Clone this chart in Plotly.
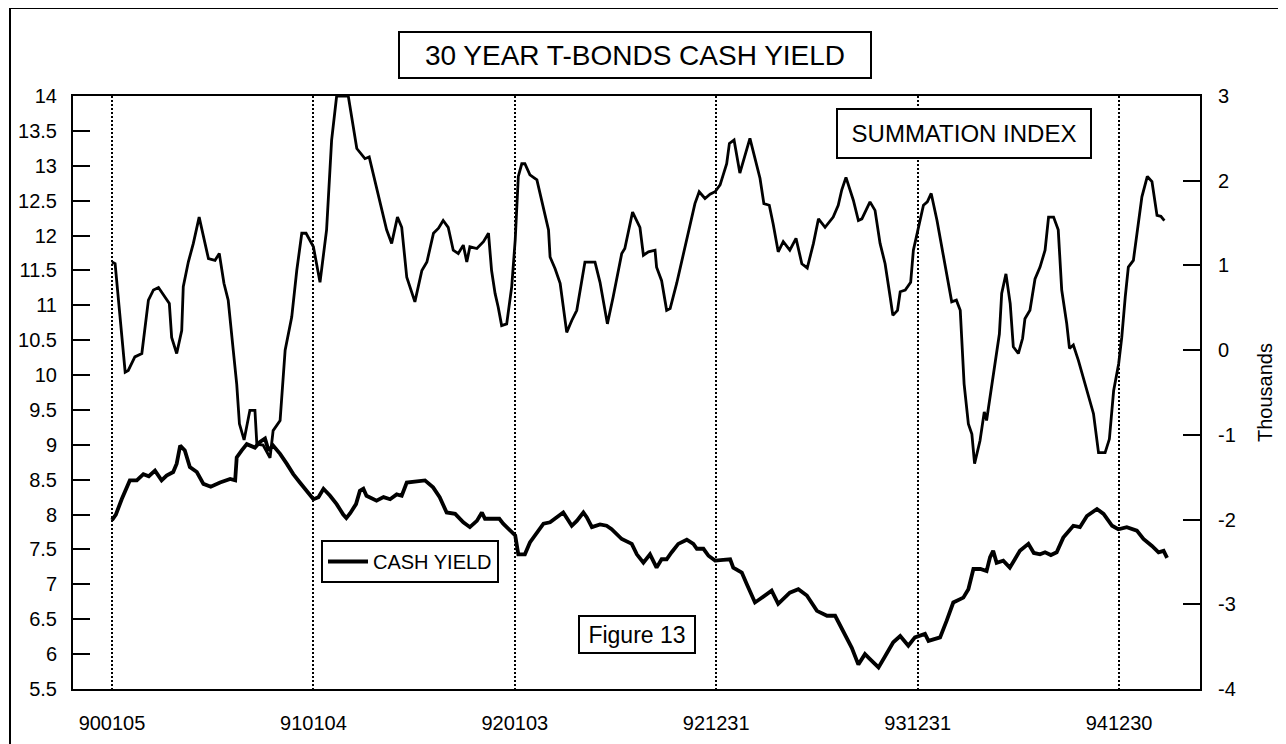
import plotly.graph_objects as go

# ---------------- data ----------------
# x = weeks since 1990-01-05 (weekly data)
tick_weeks = [0, 52, 104, 156, 208, 260]
tick_labels = ["900105", "910104", "920103", "921231", "931231", "941230"]

left_tick_vals = [5.5, 6, 6.5, 7, 7.5, 8, 8.5, 9, 9.5, 10, 10.5, 11, 11.5, 12, 12.5, 13, 13.5, 14]
left_tick_text = ["5.5", "6", "6.5", "7", "7.5", "8", "8.5", "9", "9.5", "10", "10.5", "11",
                  "11.5", "12", "12.5", "13", "13.5", "14"]
right_tick_vals = [-4, -3, -2, -1, 0, 1, 2, 3]
right_tick_text = ["-4", "-3", "-2", "-1", "0", "1", "2", "3"]

sum_week = [0, 0.8, 3.4, 4.2, 5.9, 7.7, 9.4, 10.7, 12.0, 14.8, 15.4, 16.7, 18.0, 18.4, 19.7, 21.0,
            22.5, 24.9, 26.6, 27.7, 28.9, 30.0, 31.3, 32.2, 32.9, 34.1, 35.6, 36.9, 37.4, 39.0,
            40.8, 41.6, 43.4, 44.7, 46.4, 47.7, 49.0, 50.1, 52.0, 53.7, 55.4, 56.7, 58.0, 61.0,
            63.2, 65.3, 66.4, 68.3, 70.9, 72.2, 73.7, 74.8, 76.1, 78.2, 80.0, 81.3, 83.0, 84.3,
            85.5, 86.8, 88.1, 89.4, 90.7, 91.6, 92.4, 94.2, 95.9, 97.2, 98.0, 98.9, 99.7, 100.6,
            101.9, 103.2, 104.1, 104.9, 105.8, 106.6, 107.9, 109.7, 111.4, 112.7, 113.1, 114.4,
            115.7, 117.4, 118.7, 120.0, 122.1, 124.7, 126.0, 127.9, 129.4, 131.6, 132.4, 134.4,
            136.3, 137.2, 138.5, 140.2, 140.6, 141.9, 143.2, 144.1, 145.8, 147.6, 149.2, 150.5,
            151.6, 153.1, 154.4, 155.7, 157.0, 158.7, 159.4, 160.6, 162.1, 164.7, 167.3, 168.3,
            169.7, 170.7, 172.0, 173.3, 175.0, 176.6, 178.1, 179.5, 181.1, 182.4, 184.1, 186.2,
            187.5, 188.4, 189.5, 191.4, 192.7, 193.6, 195.7, 197.0, 198.3, 199.6, 200.9, 201.6,
            202.8, 203.5, 204.8, 206.2, 206.9, 208.2, 209.5, 210.5, 211.5, 213.0, 214.7, 216.0,
            216.8, 218.0, 219.0, 220.0, 221.1, 222.0, 222.7, 224.1, 225.2, 225.8, 227.5, 229.1,
            229.7, 230.8, 231.9, 232.7, 234.0, 235.1, 235.7, 237.0, 238.3, 239.6, 240.9, 241.8,
            243.1, 244.3, 245.2, 246.5, 247.2, 248.2, 249.5, 251.7, 253.4, 254.7, 256.4, 257.5,
            258.6, 259.9, 260.7, 261.6, 262.4, 263.7, 265.0, 265.9, 267.3, 268.5, 269.8, 270.8,
            271.7]
sum_index = [1.04, 1.02, -0.26, -0.24, -0.08, -0.04, 0.59, 0.71, 0.74, 0.55, 0.15, -0.04, 0.23,
             0.75, 1.04, 1.26, 1.57, 1.08, 1.06, 1.14, 0.79, 0.59, 0.00, -0.40, -0.87, -1.06,
             -0.71, -0.71, -1.11, -1.12, -1.27, -0.95, -0.83, 0.00, 0.39, 0.94, 1.38, 1.38, 1.22,
             0.80, 1.42, 2.48, 3.00, 3.00, 2.38, 2.26, 2.28, 1.93, 1.42, 1.26, 1.57, 1.45, 0.86,
             0.57, 0.94, 1.04, 1.38, 1.44, 1.53, 1.45, 1.18, 1.14, 1.24, 1.04, 1.22, 1.20, 1.28,
             1.38, 0.94, 0.67, 0.51, 0.29, 0.31, 0.75, 1.30, 2.05, 2.20, 2.20, 2.07, 2.01, 1.69,
             1.42, 1.10, 0.96, 0.79, 0.21, 0.35, 0.47, 1.04, 1.04, 0.80, 0.31, 0.63, 1.14, 1.20,
             1.63, 1.45, 1.12, 1.16, 1.18, 0.98, 0.82, 0.47, 0.49, 0.79, 1.14, 1.45, 1.73, 1.87,
             1.79, 1.84, 1.87, 1.95, 2.20, 2.44, 2.48, 2.09, 2.50, 2.03, 1.73, 1.71, 1.49, 1.16,
             1.28, 1.18, 1.32, 1.02, 0.97, 1.26, 1.55, 1.45, 1.57, 1.71, 1.89, 2.04, 1.77, 1.53,
             1.55, 1.75, 1.65, 1.26, 1.02, 0.63, 0.41, 0.47, 0.69, 0.71, 0.80, 1.18, 1.45, 1.71,
             1.75, 1.85, 1.53, 1.10, 0.75, 0.57, 0.59, 0.47, -0.40, -0.87, -0.99, -1.34, -1.07,
             -0.73, -0.83, -0.32, 0.19, 0.67, 0.90, 0.55, 0.04, -0.04, 0.14, 0.37, 0.47, 0.84,
             0.98, 1.18, 1.57, 1.57, 1.42, 0.71, 0.31, 0.02, 0.06, -0.12, -0.48, -0.75, -1.21,
             -1.21, -1.05, -0.48, -0.16, 0.15, 0.63, 0.98, 1.06, 1.49, 1.81, 2.05, 1.99, 1.59,
             1.58, 1.53]

cash_week = [0, 1.0, 2.5, 4.6, 6.4, 8.1, 9.5, 11.1, 12.8, 14.1, 15.8, 16.7, 17.6, 18.8, 20.1, 21.9,
             23.6, 25.5, 27.9, 30.5, 31.8, 32.2, 33.5, 34.8, 36.9, 38.2, 39.5, 40.4, 41.6, 43.4,
             45.1, 46.8, 48.5, 50.3, 52.0, 53.3, 54.6, 56.3, 58.0, 59.7, 60.5, 61.5, 63.0, 64.0,
             64.9, 65.7, 68.3, 70.1, 71.8, 73.5, 74.8, 76.1, 79.5, 80.8, 82.9, 84.6, 86.4, 88.6,
             90.7, 92.4, 94.2, 95.5, 96.3, 98.5, 100.0, 101.0, 102.8, 104.1, 104.9, 106.6, 107.9,
             109.7, 111.4, 113.1, 114.4, 116.5, 118.7, 120.0, 121.7, 122.6, 123.9, 126.0, 127.7,
             129.0, 131.6, 132.9, 134.2, 135.5, 137.2, 138.9, 140.6, 141.9, 143.2, 144.5, 146.2,
             148.4, 150.1, 151.0, 152.7, 154.0, 155.7, 157.8, 159.6, 160.4, 162.6, 163.9, 166.0,
             167.3, 169.8, 170.3, 172.0, 173.3, 175.0, 177.2, 179.4, 182.0, 184.6, 186.7, 188.8,
             191.0, 192.7, 194.4, 195.5, 197.9, 199.6, 201.7, 203.5, 205.6, 207.3, 209.9, 210.8,
             212.4, 213.8, 215.5, 217.2, 219.8, 221.1, 222.4, 224.2, 225.8, 226.7, 227.5, 228.4,
             230.1, 231.8, 234.4, 236.6, 238.0, 239.6, 240.9, 242.4, 243.9, 245.6, 248.2, 249.9,
             251.7, 253.0, 254.3, 256.0, 258.2, 259.8, 261.0, 262.0, 264.6, 266.3, 268.5, 270.2,
             271.5, 272.4]
cash_yield = [7.92, 8.00, 8.22, 8.49, 8.49, 8.58, 8.55, 8.63, 8.49, 8.56, 8.61, 8.73, 8.99, 8.92,
              8.68, 8.61, 8.44, 8.40, 8.46, 8.51, 8.49, 8.82, 8.92, 9.01, 8.96, 9.04, 9.09, 8.92,
              8.99, 8.87, 8.73, 8.58, 8.46, 8.34, 8.22, 8.25, 8.37, 8.27, 8.15, 8.00, 7.95, 8.02,
              8.15, 8.34, 8.37, 8.27, 8.20, 8.25, 8.22, 8.29, 8.27, 8.46, 8.49, 8.49, 8.39, 8.25,
              8.03, 8.01, 7.89, 7.82, 7.91, 8.03, 7.94, 7.94, 7.94, 7.87, 7.77, 7.70, 7.43, 7.43,
              7.60, 7.74, 7.87, 7.89, 7.94, 8.03, 7.84, 7.91, 8.03, 7.96, 7.82, 7.86, 7.84, 7.79,
              7.65, 7.62, 7.58, 7.43, 7.31, 7.43, 7.24, 7.36, 7.36, 7.46, 7.58, 7.64, 7.58, 7.51,
              7.51, 7.41, 7.34, 7.35, 7.36, 7.24, 7.17, 7.00, 6.74, 6.79, 6.89, 6.91, 6.72, 6.79,
              6.88, 6.93, 6.84, 6.62, 6.55, 6.55, 6.33, 6.09, 5.85, 6.00, 5.94, 5.81, 5.97, 6.17,
              6.26, 6.12, 6.24, 6.29, 6.19, 6.22, 6.24, 6.48, 6.74, 6.81, 6.93, 7.22, 7.22, 7.19,
              7.39, 7.48, 7.31, 7.34, 7.24, 7.48, 7.58, 7.45, 7.43, 7.46, 7.42, 7.46, 7.67, 7.84,
              7.82, 7.98, 8.03, 8.08, 8.01, 7.84, 7.79, 7.80, 7.82, 7.77, 7.65, 7.55, 7.46, 7.48,
              7.38]

# ---------------- layout helpers ----------------
OFF = 8                     # the page body adds an 8px margin on top and left
W, H = 1286 - OFF, 744 - OFF
PL, PR, PT, PB = 73, 1200, 96, 689  # plot-area edges in screen pixels


def px(x):
    return (x - PL) / (PR - PL)


def py(y):
    return (PB - y) / (PB - PT)


FONT = "Arial, 'Liberation Sans', sans-serif"

fig = go.Figure()
fig.add_trace(go.Scatter(x=sum_week, y=sum_index, mode="lines", yaxis="y2",
                         line=dict(color="black", width=2.8), name="SUMMATION INDEX",
                         showlegend=False))
fig.add_trace(go.Scatter(x=cash_week, y=cash_yield, mode="lines", yaxis="y",
                         line=dict(color="black", width=3.8), name="CASH YIELD"))

fig.update_layout(
    width=W, height=H,
    margin=dict(l=PL - OFF, r=W - (PR - OFF), t=PT - OFF, b=H - (PB - OFF), autoexpand=False),
    paper_bgcolor="white", plot_bgcolor="white",
    font=dict(family=FONT, color="black", size=20),
    xaxis=dict(range=[-10.07, 280.9], tickvals=tick_weeks, ticktext=tick_labels,
               showgrid=True, gridcolor="black", gridwidth=1.6, griddash="2px,2px",
               ticks="", showline=True, linecolor="black", linewidth=2, mirror=True,
               zeroline=False, ticklabelstandoff=15, tickfont=dict(size=20),
               automargin=False),
    yaxis=dict(range=[5.5, 14], tickvals=left_tick_vals, ticktext=left_tick_text,
               ticks="inside", ticklen=17, tickwidth=2, tickcolor="black",
               showline=True, linecolor="black", linewidth=2, showgrid=False,
               zeroline=False, ticklabelstandoff=10, tickfont=dict(size=20),
               automargin=False),
    yaxis2=dict(range=[-4, 3], tickvals=right_tick_vals, ticktext=right_tick_text,
                overlaying="y", side="right",
                ticks="inside", ticklen=17, tickwidth=2, tickcolor="black",
                showline=True, linecolor="black", linewidth=2, showgrid=False,
                zeroline=False, ticklabelstandoff=12, tickfont=dict(size=20),
                title=dict(text="Thousands", font=dict(size=20), standoff=23),
                automargin=False),
    legend=dict(x=px(321), y=py(540), xanchor="left", yanchor="top",
                bordercolor="black", borderwidth=2, bgcolor="white",
                font=dict(size=20), itemwidth=40),
    showlegend=True,
)

fig.add_annotation(x=px(635), y=py(55.5), xref="paper", yref="paper",
                   text="30 YEAR T-BONDS CASH YIELD", showarrow=False,
                   xanchor="center", yanchor="middle", width=470, height=44,
                   bordercolor="black", borderwidth=2, borderpad=0, bgcolor="white",
                   font=dict(size=28))
fig.add_annotation(x=px(964), y=py(133), xref="paper", yref="paper",
                   text="SUMMATION INDEX", showarrow=False,
                   xanchor="center", yanchor="middle", width=252, height=47,
                   bordercolor="black", borderwidth=2, borderpad=0, bgcolor="white",
                   font=dict(size=24))
fig.add_annotation(x=px(636.5), y=py(634), xref="paper", yref="paper",
                   text="Figure 13", showarrow=False,
                   xanchor="center", yanchor="middle", width=114, height=35,
                   bordercolor="black", borderwidth=2, borderpad=0, bgcolor="white",
                   font=dict(size=23))

# outer frame of the page
fig.add_shape(type="rect", xref="paper", yref="paper",
              x0=px(10), x1=px(1300), y0=py(760), y1=py(8),
              line=dict(color="black", width=2), fillcolor="rgba(0,0,0,0)", layer="below")

fig.write_html("out.html")
